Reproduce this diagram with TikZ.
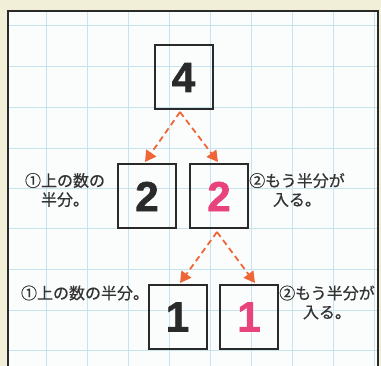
\documentclass[tikz,border=0pt]{standalone}
\usepackage{fontspec}
\newfontfamily\cjk[FakeBold=0.7]{Noto Sans CJK JP}
\newfontfamily\numfont[BoldFeatures={FakeBold=1.6}]{Liberation Sans}
\usetikzlibrary{arrows.meta}
\definecolor{cream}{HTML}{F2EFD9}
\definecolor{paper}{HTML}{FBFDFC}
\definecolor{gridblue}{HTML}{C6E3EE}
\definecolor{frameink}{HTML}{2A2A2A}
\definecolor{pinkink}{HTML}{E8437C}
\definecolor{arroworange}{HTML}{EE6638}
\definecolor{textink}{HTML}{333333}
\tikzset{
  numbox/.style={draw=frameink, line width=2pt, minimum width=58pt, minimum height=64pt, inner sep=0pt,
    font=\numfont\bfseries\fontsize{42}{42}\selectfont, text=frameink},
  pinknum/.style={text=pinkink},
  halfarrow/.style={draw=arroworange, line width=1.8pt, dash pattern=on 6pt off 4pt,
    -{Triangle[length=11pt,width=12pt]}},
  note/.style={font=\cjk\fontsize{16}{19}\selectfont, text=textink, align=center, inner sep=0pt}
}
\begin{document}
\begin{tikzpicture}[x=1pt,y=-1pt]
\useasboundingbox (0,0) rectangle (381,366);
\fill[cream] (0,0) rectangle (381,366);
\fill[paper] (8,11) rectangle (378,370);
\begin{scope}
\clip (8,11) rectangle (378,370);
\foreach \gx in {46,87,128,169,210,251,292,333,374}
  \draw[gridblue, line width=0.8pt] (\gx,11) -- (\gx,370);
\foreach \gy in {25,66,107.5,148,188,228,269,310,350}
  \draw[gridblue, line width=0.8pt] (8,\gy) -- (378,\gy);
\end{scope}
\draw[frameink, line width=2.5pt] (8,372) -- (8,11) -- (378,11) -- (378,372);

\node[numbox] (b4) at (183.5,77.5) {4};
\node[numbox] (b2l) at (147,196.5) {2};
\node[numbox, pinknum] (b2r) at (219,196.5) {2};
\node[numbox] (b1l) at (177.5,317) {1};
\node[numbox, pinknum] (b1r) at (249,317) {1};

\coordinate (a1) at (180,112);
\coordinate (t1l) at (145,162);
\coordinate (t1r) at (218,162);
\coordinate (a2) at (217,232);
\coordinate (t2l) at (180,283);
\coordinate (t2r) at (255,283);
\draw[halfarrow] (a1) -- (t1l);
\draw[halfarrow] (a1) -- (t1r);
\draw[halfarrow] (a2) -- (t2l);
\draw[halfarrow] (a2) -- (t2r);

\node[note] (n1) at (65,190) {①上の数の\\半分。};
\node[note] (n2) at (297,190) {②もう半分が\\入る。};
\node[note] (n3) at (85,293) {①上の数の半分。};
\node[note] (n4) at (327,302.5) {②もう半分が\\入る。};
\end{tikzpicture}
\end{document}
